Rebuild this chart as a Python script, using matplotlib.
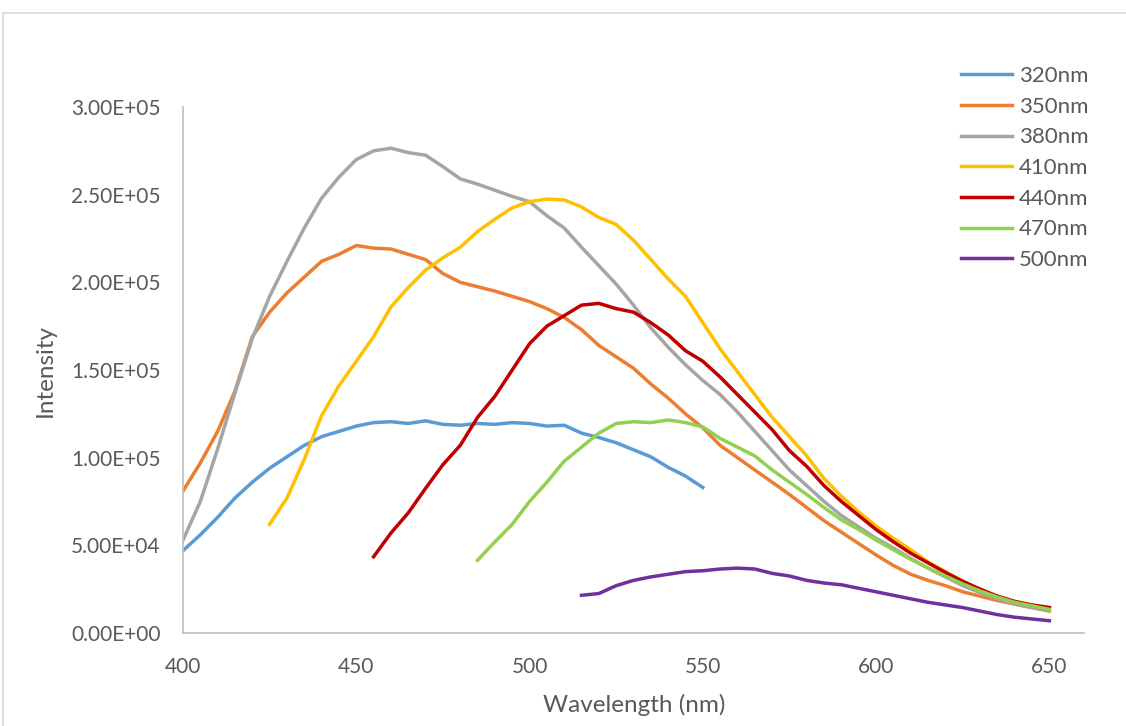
import numpy as np
import matplotlib
matplotlib.use('Agg')
import matplotlib.pyplot as plt
from matplotlib.patches import Rectangle

plt.rcParams['font.family'] = ['Lato', 'DejaVu Sans']

labels = ['320nm', '350nm', '380nm', '410nm', '440nm', '470nm', '500nm']
colors = ['#5B9BD5', '#ED7D31', '#A5A5A5', '#FFC000', '#C00000', '#92D050', '#7030A0']
starts = [400, 400, 400, 425, 455, 485, 515]

ex320 = [47000, 56000, 66000, 77000, 86000, 94000, 100500, 107000, 112000, 115000,
         118000, 120000, 120500, 119500, 121000, 119000, 118500, 119500, 119000, 120000,
         119500, 118000, 118500, 114000, 111500, 108500, 104500, 100500, 94500, 89500,
         83000]
ex350 = [81000, 97000, 115000, 138000, 169000, 183000, 194000, 203000, 212000, 216000,
         221000, 219500, 219000, 216000, 213000, 205000, 200000, 197500, 195000, 192000,
         189000, 185000, 180000, 173000, 164000, 157500, 151000, 142000, 134000, 125000,
         117000, 107000, 100000, 93000, 86000, 79000, 71500, 64000, 57500, 51000,
         44500, 38500, 33500, 30000, 27000, 23500, 21000, 18500, 16500, 14500,
         12500]
ex380 = [53000, 75000, 105000, 137000, 168000, 192000, 212000, 231000, 248000, 260000,
         270000, 275000, 276500, 274000, 272500, 266000, 259000, 256000, 252500, 249000,
         246000, 238000, 231000, 220000, 209500, 199000, 187000, 174000, 163000, 153000,
         144000, 136000, 126000, 115000, 104000, 93000, 84000, 75000, 67000, 60500,
         54000, 48500, 42500, 37000, 32000, 27000, 23000, 19500, 16500, 14500,
         13000]
ex410 = [62000, 77000, 99000, 124000, 141000, 155000, 169000, 186000, 197000, 207000,
         214000, 220000, 229000, 236000, 242500, 246000, 247500, 247000, 243000, 237000,
         233000, 224000, 213000, 202000, 192000, 177000, 162000, 149000, 136000, 123000,
         112000, 101000, 88000, 78000, 69000, 61000, 54000, 47500, 40500, 35000,
         29500, 25000, 21000, 18000, 16000, 14500]
ex440 = [43500, 57000, 68500, 82500, 96000, 107000, 123000, 135000, 150000, 165000,
         175000, 181000, 187000, 188000, 185000, 183000, 177000, 170000, 161000, 155000,
         146000, 136000, 126000, 116000, 104000, 95000, 84000, 75000, 67000, 59000,
         52000, 45500, 40000, 34500, 29500, 25000, 21000, 18000, 16000, 14500]
ex470 = [41500, 52000, 62000, 75000, 86000, 98000, 106000, 114000, 119500, 120500,
         120000, 121500, 120000, 117500, 111000, 106000, 101000, 93000, 86000, 79000,
         71500, 64500, 59000, 53000, 47500, 42000, 37000, 32500, 28000, 24000,
         20500, 17500, 15500, 13500]
ex500 = [21500, 22500, 27000, 30000, 32000, 33500, 35000, 35500, 36500, 37000,
         36500, 34000, 32500, 30000, 28500, 27500, 25500, 23500, 21500, 19500,
         17500, 16000, 14500, 12500, 10500, 9000, 8000, 7000]

series = [ex320, ex350, ex380, ex410, ex440, ex470, ex500]

fig = plt.figure(figsize=(11.26, 7.26), dpi=100)
# chart area border (cropped at right/bottom like the screenshot)
fig.patches.append(Rectangle((3 / 1126, -0.1), 1.2, (726 - 13) / 726 + 0.1,
                             transform=fig.transFigure, fill=False,
                             edgecolor='#D9D9D9', linewidth=1.2))

ax = fig.add_axes([183 / 1126, (726 - 633) / 726, (1084 - 183) / 1126, (633 - 107) / 726])

for vals, start, col, lab in zip(series, starts, colors, labels):
    wl = start + 5 * np.arange(len(vals))
    ax.plot(wl, vals, color=col, linewidth=2.5, label=lab)

ax.set_xlim(400, 660)
ax.set_ylim(0, 300000)
ax.set_xticks(np.arange(400, 651, 50))
ax.set_yticks(np.arange(0, 300001, 50000))
ax.yaxis.set_major_formatter(matplotlib.ticker.FuncFormatter(
    lambda v, p: '{:.2E}'.format(v)))

for s in ['top', 'right']:
    ax.spines[s].set_visible(False)
for s in ['left', 'bottom']:
    ax.spines[s].set_color('#BFBFBF')
    ax.spines[s].set_linewidth(1.2)
ax.tick_params(length=0, labelsize=15, labelcolor='#595959')
ax.tick_params(axis='x', pad=17)
ax.tick_params(axis='y', pad=16)

fig.text(634 / 1126, 1 - 705 / 726, 'Wavelength (nm)', ha='center', va='center',
         fontsize=17.5, color='#595959')
fig.text(45 / 1126, 1 - 370 / 726, 'Intensity', ha='center', va='center',
         rotation=90, fontsize=17.5, color='#595959')

leg = ax.legend(loc='upper left', bbox_to_anchor=(961 / 1126, 1 - 66 / 726),
                bbox_transform=fig.transFigure, frameon=False, fontsize=16,
                handlelength=2.3, handletextpad=0.3, labelspacing=0.48,
                borderpad=0, borderaxespad=0)
for t in leg.get_texts():
    t.set_color('#595959')

fig.savefig('out.png', dpi=100)
